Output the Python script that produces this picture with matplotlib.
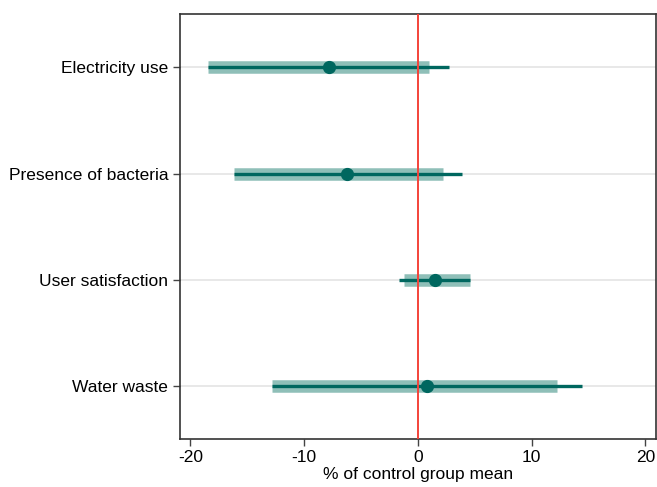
import matplotlib.pyplot as plt

plt.rcParams['font.family'] = ['Liberation Sans', 'DejaVu Sans']

# outcomes, top to bottom
labels = ['Electricity use', 'Presence of bacteria', 'User satisfaction', 'Water waste']
est = [-7.8, -6.2, 1.5, 0.8]
# wide band (thick, light)
ci_lo_a = [-18.4, -16.2, -1.2, -12.8]
ci_hi_a = [1.0, 2.2, 4.6, 12.2]
# thin line
ci_lo_b = [-18.4, -16.2, -1.7, -12.8]
ci_hi_b = [2.7, 3.9, 4.6, 14.4]

dark = '#00675f'
light = '#8fbfb8'

fig, ax = plt.subplots(figsize=(6.57, 4.87), dpi=100)
fig.subplots_adjust(left=0.274, right=0.998, bottom=0.098, top=0.971)

ypos = [4, 3, 2, 1]
for y in ypos:
    ax.axhline(y, color='#e4e4e4', lw=1.2, zorder=0)

ax.hlines(ypos, ci_lo_a, ci_hi_a, color=light, lw=9, zorder=2)
ax.hlines(ypos, ci_lo_b, ci_hi_b, color=dark, lw=2.4, zorder=3)
ax.plot(est, ypos, 'o', color=dark, ms=8.5, zorder=4)
ax.axvline(0, color='#f4433a', lw=1.4, zorder=5)

ax.set_xlim(-20.9, 20.9)
ax.set_ylim(0.5, 4.5)
ax.set_xticks([-20, -10, 0, 10, 20])
ax.set_xticklabels(['-20', '-10', '0', '10', '20'])
ax.set_yticks(ypos)
ax.set_yticklabels(labels)
ax.tick_params(labelsize=12.5, length=5, width=1, color='#444444')
ax.tick_params(axis='x', pad=3)
ax.set_xlabel('% of control group mean', fontsize=12.5, labelpad=1)

for s in ax.spines.values():
    s.set_linewidth(1.2)
    s.set_color('#333333')

fig.savefig('out.png', dpi=100)
